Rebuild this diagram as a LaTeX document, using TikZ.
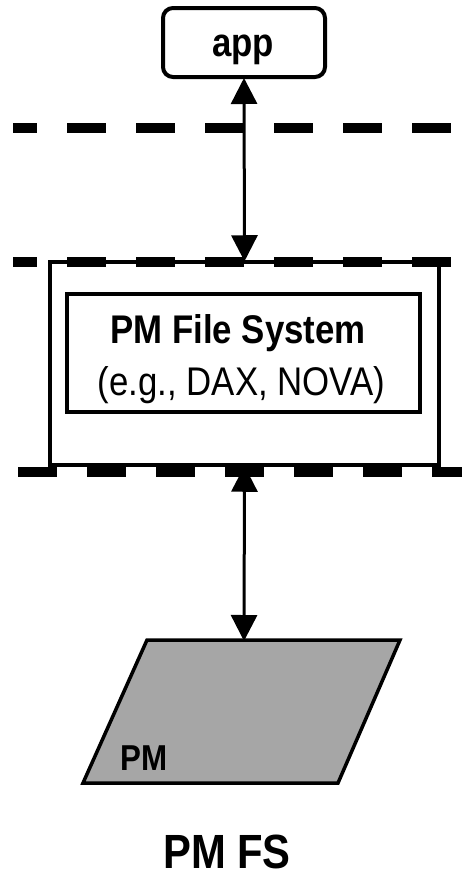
\documentclass[tikz,border=0pt]{standalone}
\usepackage{fontspec}
\setmainfont{Liberation Sans}[FakeStretch=0.87]
\usetikzlibrary{arrows.meta}
\tikzset{
  box/.style={draw, line width=3.5pt, inner sep=0pt},
  layer/.style={line width=10pt, dash pattern=on 39pt off 30pt},
  link/.style={line width=3pt, {Triangle[width=26pt,length=26pt]}-{Triangle[width=26pt,length=26pt]}, shorten <=-1pt, shorten >=-1pt},
  lbl/.style={anchor=base, inner sep=0pt}
}
\begin{document}
\begin{tikzpicture}[x=1pt, y=-1pt]
\useasboundingbox (0,0) rectangle (462,878);
% dashed layer lines
\coordinate (l1a) at (13,128); \coordinate (l1b) at (452,128);
\coordinate (l2a) at (13,262); \coordinate (l2b) at (452,262);
\coordinate (l3a) at (18,472); \coordinate (l3b) at (462,472);
\draw[layer, dash phase=15pt] (l1a) -- (l1b);
\draw[layer, dash phase=15pt] (l2a) -- (l2b);
\draw[layer] (l3a) -- (l3b);
% app box
\node[box, line width=4pt, rounded corners=10pt, minimum width=162pt, minimum height=69pt] (app) at (244,42.5) {};
\node[lbl, font=\fontsize{40}{48}\selectfont\bfseries] (apptxt) at (243,56) {app};
% outer box
\node[box, minimum width=389pt, minimum height=203pt] (outer) at (244.5,363.5) {};
% inner box
\node[box, minimum width=353pt, minimum height=118pt] (inner) at (243.5,353) {};
\node[lbl, font=\fontsize{40}{48}\selectfont\bfseries] (pmfs1) at (238,343) {PM File System};
\node[lbl, font=\fontsize{40}{48}\selectfont] (pmfs2) at (241.5,395) {(e.g., DAX, NOVA)};
% PM parallelogram
\coordinate (p1) at (147,640); \coordinate (p2) at (400,640);
\coordinate (p3) at (338,783); \coordinate (p4) at (83,783);
\draw[line width=3.5pt, fill={rgb,255:red,166;green,166;blue,166}, line join=miter] (p1) -- (p2) -- (p3) -- (p4) -- cycle;
\coordinate (pmtop) at (244,640);
\node[lbl, font=\fontsize{36}{44}\selectfont\bfseries] (pmtxt) at (144,770) {PM};
% connectors
\draw[link] (app.south) -- (outer.north);
\draw[link] (outer.south) -- (pmtop);
% caption
\node[lbl, font=\fontsize{48}{56}\selectfont\bfseries] (caption) at (227,868) {PM FS};
\end{tikzpicture}
\end{document}
